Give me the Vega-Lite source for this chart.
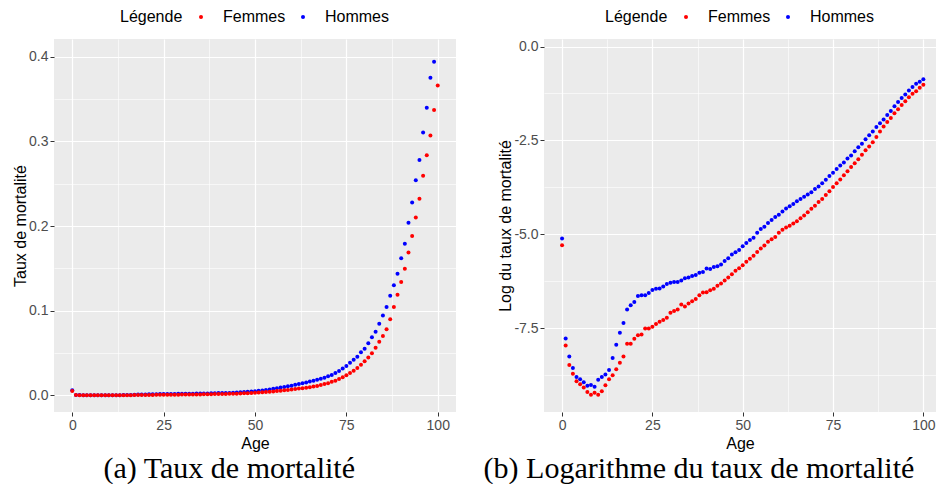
{
  "$schema": "https://vega.github.io/schema/vega-lite/v6.json",
  "padding": {"left": 12, "top": 9, "right": 0, "bottom": 0},
  "background": "white",
  "spacing": 27,
  "resolve": {"legend": {"color": "independent"}},
  "config": {
    "view": {"fill": "#EBEBEB", "stroke": null},
    "font": "Liberation Sans",
    "axis": {"domain": false, "tickColor": "#333333", "tickSize": 4, "tickWidth": 1, "labelColor": "#4D4D4D", "labelFontSize": 14, "labelFont": "Liberation Sans", "titleFont": "Liberation Sans", "titleFontSize": 16, "titleFontWeight": "normal", "titleColor": "black", "gridColor": "white", "labelPadding": 2, "titlePadding": 3},
    "axisY": {"titlePadding": 0},
    "legend": {"orient": "top", "direction": "horizontal", "titleOrient": "left", "titleFontSize": 16, "titleFontWeight": "normal", "titleColor": "black", "titleFont": "Liberation Sans", "labelFont": "Liberation Sans", "labelFontSize": 16, "labelColor": "black", "symbolSize": 16, "symbolType": "circle", "symbolStrokeWidth": 0, "titlePadding": 10, "labelOffset": 14, "columnPadding": 9, "offset": 14, "layout": {"top": {"anchor": "middle"}}},
    "title": {"font": "Liberation Serif", "fontSize": 30, "fontWeight": "normal", "color": "black"}
  },
  "datasets": {
    "mort": [
      {"age":0,"sexe":"Hommes","taux":0.00604,"logtaux":-5.11},
      {"age":1,"sexe":"Hommes","taux":0.000422,"logtaux":-7.77},
      {"age":2,"sexe":"Hommes","taux":0.000261,"logtaux":-8.25},
      {"age":3,"sexe":"Hommes","taux":0.000192,"logtaux":-8.56},
      {"age":4,"sexe":"Hommes","taux":0.000151,"logtaux":-8.80},
      {"age":5,"sexe":"Hommes","taux":0.000142,"logtaux":-8.86},
      {"age":6,"sexe":"Hommes","taux":0.000131,"logtaux":-8.94},
      {"age":7,"sexe":"Hommes","taux":0.00012,"logtaux":-9.03},
      {"age":8,"sexe":"Hommes","taux":0.000122,"logtaux":-9.01},
      {"age":9,"sexe":"Hommes","taux":0.000116,"logtaux":-9.06},
      {"age":10,"sexe":"Hommes","taux":0.00014,"logtaux":-8.87},
      {"age":11,"sexe":"Hommes","taux":0.000151,"logtaux":-8.80},
      {"age":12,"sexe":"Hommes","taux":0.000162,"logtaux":-8.73},
      {"age":13,"sexe":"Hommes","taux":0.000182,"logtaux":-8.61},
      {"age":14,"sexe":"Hommes","taux":0.000251,"logtaux":-8.29},
      {"age":15,"sexe":"Hommes","taux":0.000356,"logtaux":-7.94},
      {"age":16,"sexe":"Hommes","taux":0.000491,"logtaux":-7.62},
      {"age":17,"sexe":"Hommes","taux":0.000636,"logtaux":-7.36},
      {"age":18,"sexe":"Hommes","taux":0.000912,"logtaux":-7.00},
      {"age":19,"sexe":"Hommes","taux":0.001018,"logtaux":-6.89},
      {"age":20,"sexe":"Hommes","taux":0.001114,"logtaux":-6.80},
      {"age":21,"sexe":"Hommes","taux":0.001307,"logtaux":-6.64},
      {"age":22,"sexe":"Hommes","taux":0.001333,"logtaux":-6.62},
      {"age":23,"sexe":"Hommes","taux":0.001333,"logtaux":-6.62},
      {"age":24,"sexe":"Hommes","taux":0.001416,"logtaux":-6.56},
      {"age":25,"sexe":"Hommes","taux":0.001534,"logtaux":-6.48},
      {"age":26,"sexe":"Hommes","taux":0.001581,"logtaux":-6.45},
      {"age":27,"sexe":"Hommes","taux":0.001597,"logtaux":-6.44},
      {"age":28,"sexe":"Hommes","taux":0.001679,"logtaux":-6.39},
      {"age":29,"sexe":"Hommes","taux":0.0018,"logtaux":-6.32},
      {"age":30,"sexe":"Hommes","taux":0.001855,"logtaux":-6.29},
      {"age":31,"sexe":"Hommes","taux":0.001893,"logtaux":-6.27},
      {"age":32,"sexe":"Hommes","taux":0.001893,"logtaux":-6.27},
      {"age":33,"sexe":"Hommes","taux":0.00197,"logtaux":-6.23},
      {"age":34,"sexe":"Hommes","taux":0.002092,"logtaux":-6.17},
      {"age":35,"sexe":"Hommes","taux":0.002133,"logtaux":-6.15},
      {"age":36,"sexe":"Hommes","taux":0.002221,"logtaux":-6.11},
      {"age":37,"sexe":"Hommes","taux":0.002288,"logtaux":-6.08},
      {"age":38,"sexe":"Hommes","taux":0.00243,"logtaux":-6.02},
      {"age":39,"sexe":"Hommes","taux":0.002479,"logtaux":-6.00},
      {"age":40,"sexe":"Hommes","taux":0.002713,"logtaux":-5.91},
      {"age":41,"sexe":"Hommes","taux":0.002686,"logtaux":-5.92},
      {"age":42,"sexe":"Hommes","taux":0.002824,"logtaux":-5.87},
      {"age":43,"sexe":"Hommes","taux":0.002881,"logtaux":-5.85},
      {"age":44,"sexe":"Hommes","taux":0.003028,"logtaux":-5.80},
      {"age":45,"sexe":"Hommes","taux":0.003313,"logtaux":-5.71},
      {"age":46,"sexe":"Hommes","taux":0.003553,"logtaux":-5.64},
      {"age":47,"sexe":"Hommes","taux":0.003927,"logtaux":-5.54},
      {"age":48,"sexe":"Hommes","taux":0.004169,"logtaux":-5.48},
      {"age":49,"sexe":"Hommes","taux":0.004427,"logtaux":-5.42},
      {"age":50,"sexe":"Hommes","taux":0.004893,"logtaux":-5.32},
      {"age":51,"sexe":"Hommes","taux":0.005354,"logtaux":-5.23},
      {"age":52,"sexe":"Hommes","taux":0.005799,"logtaux":-5.15},
      {"age":53,"sexe":"Hommes","taux":0.006158,"logtaux":-5.09},
      {"age":54,"sexe":"Hommes","taux":0.007013,"logtaux":-4.96},
      {"age":55,"sexe":"Hommes","taux":0.00775,"logtaux":-4.86},
      {"age":56,"sexe":"Hommes","taux":0.00823,"logtaux":-4.80},
      {"age":57,"sexe":"Hommes","taux":0.009095,"logtaux":-4.70},
      {"age":58,"sexe":"Hommes","taux":0.009853,"logtaux":-4.62},
      {"age":59,"sexe":"Hommes","taux":0.01067,"logtaux":-4.54},
      {"age":60,"sexe":"Hommes","taux":0.011333,"logtaux":-4.48},
      {"age":61,"sexe":"Hommes","taux":0.0124,"logtaux":-4.39},
      {"age":62,"sexe":"Hommes","taux":0.013434,"logtaux":-4.31},
      {"age":63,"sexe":"Hommes","taux":0.014264,"logtaux":-4.25},
      {"age":64,"sexe":"Hommes","taux":0.015146,"logtaux":-4.19},
      {"age":65,"sexe":"Hommes","taux":0.016245,"logtaux":-4.12},
      {"age":66,"sexe":"Hommes","taux":0.017249,"logtaux":-4.06},
      {"age":67,"sexe":"Hommes","taux":0.018316,"logtaux":-4.00},
      {"age":68,"sexe":"Hommes","taux":0.019448,"logtaux":-3.94},
      {"age":69,"sexe":"Hommes","taux":0.020651,"logtaux":-3.88},
      {"age":70,"sexe":"Hommes","taux":0.022596,"logtaux":-3.79},
      {"age":71,"sexe":"Hommes","taux":0.023995,"logtaux":-3.73},
      {"age":72,"sexe":"Hommes","taux":0.026252,"logtaux":-3.64},
      {"age":73,"sexe":"Hommes","taux":0.028725,"logtaux":-3.55},
      {"age":74,"sexe":"Hommes","taux":0.031746,"logtaux":-3.45},
      {"age":75,"sexe":"Hommes","taux":0.034735,"logtaux":-3.36},
      {"age":76,"sexe":"Hommes","taux":0.038388,"logtaux":-3.26},
      {"age":77,"sexe":"Hommes","taux":0.042004,"logtaux":-3.17},
      {"age":78,"sexe":"Hommes","taux":0.045502,"logtaux":-3.09},
      {"age":79,"sexe":"Hommes","taux":0.050793,"logtaux":-2.98},
      {"age":80,"sexe":"Hommes","taux":0.055023,"logtaux":-2.90},
      {"age":81,"sexe":"Hommes","taux":0.061421,"logtaux":-2.79},
      {"age":82,"sexe":"Hommes","taux":0.068563,"logtaux":-2.68},
      {"age":83,"sexe":"Hommes","taux":0.07502,"logtaux":-2.59},
      {"age":84,"sexe":"Hommes","taux":0.084585,"logtaux":-2.47},
      {"age":85,"sexe":"Hommes","taux":0.09442,"logtaux":-2.36},
      {"age":86,"sexe":"Hommes","taux":0.10435,"logtaux":-2.26},
      {"age":87,"sexe":"Hommes","taux":0.117655,"logtaux":-2.14},
      {"age":88,"sexe":"Hommes","taux":0.130029,"logtaux":-2.04},
      {"age":89,"sexe":"Hommes","taux":0.143704,"logtaux":-1.94},
      {"age":90,"sexe":"Hommes","taux":0.162026,"logtaux":-1.82},
      {"age":91,"sexe":"Hommes","taux":0.179066,"logtaux":-1.72},
      {"age":92,"sexe":"Hommes","taux":0.203926,"logtaux":-1.59},
      {"age":93,"sexe":"Hommes","taux":0.227638,"logtaux":-1.48},
      {"age":94,"sexe":"Hommes","taux":0.254107,"logtaux":-1.37},
      {"age":95,"sexe":"Hommes","taux":0.278037,"logtaux":-1.28},
      {"age":96,"sexe":"Hommes","taux":0.310367,"logtaux":-1.17},
      {"age":97,"sexe":"Hommes","taux":0.339596,"logtaux":-1.08},
      {"age":98,"sexe":"Hommes","taux":0.375,"logtaux":-0.99},
      {"age":99,"sexe":"Hommes","taux":0.394,"logtaux":-0.94},
      {"age":100,"sexe":"Hommes","taux":null,"logtaux":-0.87},
      {"age":0,"sexe":"Femmes","taux":0.005042,"logtaux":-5.29},
      {"age":1,"sexe":"Femmes","taux":0.000349,"logtaux":-7.96},
      {"age":2,"sexe":"Femmes","taux":0.000208,"logtaux":-8.48},
      {"age":3,"sexe":"Femmes","taux":0.000165,"logtaux":-8.71},
      {"age":4,"sexe":"Femmes","taux":0.000135,"logtaux":-8.91},
      {"age":5,"sexe":"Femmes","taux":0.000125,"logtaux":-8.99},
      {"age":6,"sexe":"Femmes","taux":0.000114,"logtaux":-9.08},
      {"age":7,"sexe":"Femmes","taux":0.000101,"logtaux":-9.20},
      {"age":8,"sexe":"Femmes","taux":0.0000944,"logtaux":-9.27},
      {"age":9,"sexe":"Femmes","taux":0.0000992,"logtaux":-9.22},
      {"age":10,"sexe":"Femmes","taux":0.0000944,"logtaux":-9.27},
      {"age":11,"sexe":"Femmes","taux":0.000103,"logtaux":-9.18},
      {"age":12,"sexe":"Femmes","taux":0.000121,"logtaux":-9.02},
      {"age":13,"sexe":"Femmes","taux":0.000142,"logtaux":-8.86},
      {"age":14,"sexe":"Femmes","taux":0.000159,"logtaux":-8.75},
      {"age":15,"sexe":"Femmes","taux":0.000186,"logtaux":-8.59},
      {"age":16,"sexe":"Femmes","taux":0.000221,"logtaux":-8.42},
      {"age":17,"sexe":"Femmes","taux":0.000261,"logtaux":-8.25},
      {"age":18,"sexe":"Femmes","taux":0.000367,"logtaux":-7.91},
      {"age":19,"sexe":"Femmes","taux":0.000367,"logtaux":-7.91},
      {"age":20,"sexe":"Femmes","taux":0.000418,"logtaux":-7.78},
      {"age":21,"sexe":"Femmes","taux":0.000457,"logtaux":-7.69},
      {"age":22,"sexe":"Femmes","taux":0.000466,"logtaux":-7.67},
      {"age":23,"sexe":"Femmes","taux":0.000547,"logtaux":-7.51},
      {"age":24,"sexe":"Femmes","taux":0.000547,"logtaux":-7.51},
      {"age":25,"sexe":"Femmes","taux":0.000575,"logtaux":-7.46},
      {"age":26,"sexe":"Femmes","taux":0.000617,"logtaux":-7.39},
      {"age":27,"sexe":"Femmes","taux":0.000655,"logtaux":-7.33},
      {"age":28,"sexe":"Femmes","taux":0.000689,"logtaux":-7.28},
      {"age":29,"sexe":"Femmes","taux":0.000731,"logtaux":-7.22},
      {"age":30,"sexe":"Femmes","taux":0.000833,"logtaux":-7.09},
      {"age":31,"sexe":"Femmes","taux":0.000876,"logtaux":-7.04},
      {"age":32,"sexe":"Femmes","taux":0.000912,"logtaux":-7.00},
      {"age":33,"sexe":"Femmes","taux":0.001039,"logtaux":-6.87},
      {"age":34,"sexe":"Femmes","taux":0.000988,"logtaux":-6.92},
      {"age":35,"sexe":"Femmes","taux":0.00107,"logtaux":-6.84},
      {"age":36,"sexe":"Femmes","taux":0.001136,"logtaux":-6.78},
      {"age":37,"sexe":"Femmes","taux":0.001207,"logtaux":-6.72},
      {"age":38,"sexe":"Femmes","taux":0.001333,"logtaux":-6.62},
      {"age":39,"sexe":"Femmes","taux":0.00143,"logtaux":-6.55},
      {"age":40,"sexe":"Femmes","taux":0.001445,"logtaux":-6.54},
      {"age":41,"sexe":"Femmes","taux":0.001519,"logtaux":-6.49},
      {"age":42,"sexe":"Femmes","taux":0.001581,"logtaux":-6.45},
      {"age":43,"sexe":"Femmes","taux":0.001713,"logtaux":-6.37},
      {"age":44,"sexe":"Femmes","taux":0.001818,"logtaux":-6.31},
      {"age":45,"sexe":"Femmes","taux":0.00197,"logtaux":-6.23},
      {"age":46,"sexe":"Femmes","taux":0.002133,"logtaux":-6.15},
      {"age":47,"sexe":"Femmes","taux":0.002334,"logtaux":-6.06},
      {"age":48,"sexe":"Femmes","taux":0.002554,"logtaux":-5.97},
      {"age":49,"sexe":"Femmes","taux":0.002739,"logtaux":-5.90},
      {"age":50,"sexe":"Femmes","taux":0.002968,"logtaux":-5.82},
      {"age":51,"sexe":"Femmes","taux":0.003247,"logtaux":-5.73},
      {"age":52,"sexe":"Femmes","taux":0.003518,"logtaux":-5.65},
      {"age":53,"sexe":"Femmes","taux":0.00381,"logtaux":-5.57},
      {"age":54,"sexe":"Femmes","taux":0.004211,"logtaux":-5.47},
      {"age":55,"sexe":"Femmes","taux":0.004608,"logtaux":-5.38},
      {"age":56,"sexe":"Femmes","taux":0.004992,"logtaux":-5.30},
      {"age":57,"sexe":"Femmes","taux":0.005517,"logtaux":-5.20},
      {"age":58,"sexe":"Femmes","taux":0.005917,"logtaux":-5.13},
      {"age":59,"sexe":"Femmes","taux":0.006283,"logtaux":-5.07},
      {"age":60,"sexe":"Femmes","taux":0.007013,"logtaux":-4.96},
      {"age":61,"sexe":"Femmes","taux":0.007597,"logtaux":-4.88},
      {"age":62,"sexe":"Femmes","taux":0.008067,"logtaux":-4.82},
      {"age":63,"sexe":"Femmes","taux":0.00848,"logtaux":-4.77},
      {"age":64,"sexe":"Femmes","taux":0.009005,"logtaux":-4.71},
      {"age":65,"sexe":"Femmes","taux":0.009562,"logtaux":-4.65},
      {"age":66,"sexe":"Femmes","taux":0.010358,"logtaux":-4.57},
      {"age":67,"sexe":"Femmes","taux":0.011109,"logtaux":-4.50},
      {"age":68,"sexe":"Femmes","taux":0.012155,"logtaux":-4.41},
      {"age":69,"sexe":"Femmes","taux":0.0133,"logtaux":-4.32},
      {"age":70,"sexe":"Femmes","taux":0.014408,"logtaux":-4.24},
      {"age":71,"sexe":"Femmes","taux":0.015923,"logtaux":-4.14},
      {"age":72,"sexe":"Femmes","taux":0.017249,"logtaux":-4.06},
      {"age":73,"sexe":"Femmes","taux":0.019255,"logtaux":-3.95},
      {"age":74,"sexe":"Femmes","taux":0.02128,"logtaux":-3.85},
      {"age":75,"sexe":"Femmes","taux":0.023754,"logtaux":-3.74},
      {"age":76,"sexe":"Femmes","taux":0.026252,"logtaux":-3.64},
      {"age":77,"sexe":"Femmes","taux":0.029013,"logtaux":-3.54},
      {"age":78,"sexe":"Femmes","taux":0.03239,"logtaux":-3.43},
      {"age":79,"sexe":"Femmes","taux":0.036153,"logtaux":-3.32},
      {"age":80,"sexe":"Femmes","taux":0.040357,"logtaux":-3.21},
      {"age":81,"sexe":"Femmes","taux":0.044601,"logtaux":-3.11},
      {"age":82,"sexe":"Femmes","taux":0.049787,"logtaux":-3.00},
      {"age":83,"sexe":"Femmes","taux":0.056135,"logtaux":-2.88},
      {"age":84,"sexe":"Femmes","taux":0.063292,"logtaux":-2.76},
      {"age":85,"sexe":"Femmes","taux":0.069948,"logtaux":-2.66},
      {"age":86,"sexe":"Femmes","taux":0.078082,"logtaux":-2.55},
      {"age":87,"sexe":"Femmes","taux":0.089815,"logtaux":-2.41},
      {"age":88,"sexe":"Femmes","taux":0.10435,"logtaux":-2.26},
      {"age":89,"sexe":"Femmes","taux":0.118837,"logtaux":-2.13},
      {"age":90,"sexe":"Femmes","taux":0.133989,"logtaux":-2.01},
      {"age":91,"sexe":"Femmes","taux":0.149569,"logtaux":-1.90},
      {"age":92,"sexe":"Femmes","taux":0.168638,"logtaux":-1.78},
      {"age":93,"sexe":"Femmes","taux":0.188247,"logtaux":-1.67},
      {"age":94,"sexe":"Femmes","taux":0.210136,"logtaux":-1.56},
      {"age":95,"sexe":"Femmes","taux":0.232236,"logtaux":-1.46},
      {"age":96,"sexe":"Femmes","taux":0.25924,"logtaux":-1.35},
      {"age":97,"sexe":"Femmes","taux":0.283654,"logtaux":-1.26},
      {"age":98,"sexe":"Femmes","taux":0.307,"logtaux":-1.19},
      {"age":99,"sexe":"Femmes","taux":0.337,"logtaux":-1.10},
      {"age":100,"sexe":"Femmes","taux":0.366,"logtaux":-1.02}
    ]
  },
  "hconcat": [
    {
      "width": 402,
      "height": 373,
      "data": {"name": "mort"},
      "title": {"text": "(a) Taux de mortalité", "orient": "bottom", "anchor": "middle", "frame": "bounds", "offset": 3, "dx": -5},
      "mark": {"type": "point", "filled": true, "size": 16, "opacity": 1},
      "encoding": {
        "x": {"field": "age", "type": "quantitative", "scale": {"domain": [-5, 105], "nice": false, "zero": false},
          "axis": {"title": "Age", "values": [0, 12.5, 25, 37.5, 50, 62.5, 75, 87.5, 100],
            "labelExpr": "datum.value % 25 === 0 ? datum.label : ''",
            "gridWidth": {"condition": {"test": "datum.value % 25 === 0", "value": 1.2}, "value": 0.6},
            "tickOpacity": {"condition": {"test": "datum.value % 25 === 0", "value": 1}, "value": 0}}},
        "y": {"field": "taux", "type": "quantitative", "scale": {"domain": [-0.0197, 0.4209], "nice": false, "zero": false},
          "axis": {"title": "Taux de mortalité", "values": [0, 0.05, 0.1, 0.15, 0.2, 0.25, 0.3, 0.35, 0.4], "format": ".1f",
            "labelExpr": "round(datum.value * 100) % 10 === 0 ? datum.label : ''",
            "gridWidth": {"condition": {"test": "round(datum.value * 100) % 10 === 0", "value": 1.2}, "value": 0.6},
            "tickOpacity": {"condition": {"test": "round(datum.value * 100) % 10 === 0", "value": 1}, "value": 0}}},
        "color": {"field": "sexe", "type": "nominal", "scale": {"domain": ["Femmes", "Hommes"], "range": ["#FF0000", "#0000FF"]}, "legend": {"title": "Légende"}}
      }
    },
    {
      "width": 392,
      "height": 373,
      "data": {"name": "mort"},
      "title": {"text": "(b) Logarithme du taux de mortalité", "orient": "bottom", "anchor": "middle", "frame": "bounds", "offset": 3, "dx": -18},
      "mark": {"type": "point", "filled": true, "size": 16, "opacity": 1},
      "encoding": {
        "x": {"field": "age", "type": "quantitative", "scale": {"domain": [-5, 103.5], "nice": false, "zero": false},
          "axis": {"title": "Age", "values": [0, 12.5, 25, 37.5, 50, 62.5, 75, 87.5, 100],
            "labelExpr": "datum.value % 25 === 0 ? datum.label : ''",
            "gridWidth": {"condition": {"test": "datum.value % 25 === 0", "value": 1.2}, "value": 0.6},
            "tickOpacity": {"condition": {"test": "datum.value % 25 === 0", "value": 1}, "value": 0}}},
        "y": {"field": "logtaux", "type": "quantitative", "scale": {"domain": [-9.73, 0.2], "nice": false, "zero": false},
          "axis": {"title": "Log du taux de mortalité", "values": [-8.75, -7.5, -6.25, -5, -3.75, -2.5, -1.25, 0],
            "labelExpr": "round(datum.value * 100) % 250 === 0 ? replace(format(datum.value, '.1f'), '\u2212', '-') : ''",
            "gridWidth": {"condition": {"test": "round(datum.value * 100) % 250 === 0", "value": 1.2}, "value": 0.6},
            "tickOpacity": {"condition": {"test": "round(datum.value * 100) % 250 === 0", "value": 1}, "value": 0}}},
        "color": {"field": "sexe", "type": "nominal", "scale": {"domain": ["Femmes", "Hommes"], "range": ["#FF0000", "#0000FF"]}, "legend": {"title": "Légende"}}
      }
    }
  ]
}
